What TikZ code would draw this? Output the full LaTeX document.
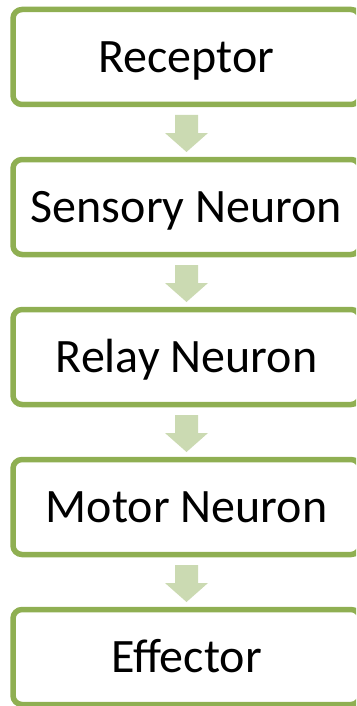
\documentclass[tikz,border=0pt]{standalone}
\usepackage{fontspec}
\setmainfont{Carlito}
\usetikzlibrary{calc}
\definecolor{stepgreen}{RGB}{143,175,82}
\definecolor{arrowgreen}{RGB}{203,218,178}
\begin{document}
\begin{tikzpicture}[x=1pt,y=-1pt,
  stepbox/.style={draw=stepgreen, line width=5.5pt, rounded corners=9pt,
    minimum width=347pt, minimum height=95pt, inner sep=0pt, outer sep=0pt,
    text height=30.3pt, text depth=0pt,
    font=\fontsize{48}{52}\selectfont},
  blockarrow/.style={fill=arrowgreen, draw=none}]
\useasboundingbox (0,0) rectangle (356,706);
\clip (0,0) rectangle (356,706);

% process steps
\node[stepbox] (receptor) at (186.5,57)  {Receptor};
\node[stepbox] (sensory)  at (186.5,207) {Sensory Neuron};
\node[stepbox] (relay)    at (186.5,357) {Relay Neuron};
\node[stepbox] (motor)    at (186.5,507) {Motor Neuron};
\node[stepbox] (effector) at (186.5,657) {Effector};

% downward block arrows between consecutive steps
\foreach \a/\b in {receptor/sensory, sensory/relay, relay/motor, motor/effector}{
  \path[blockarrow]
    ($(\a.south)+(-11.5,10.5)$) -- ($(\a.south)+(11.5,10.5)$)
    -- ($(\a.south)+(11.5,28.5)$) -- ($(\a.south)+(21.5,28.5)$)
    -- ($(\b.north)+(0,-7.5)$)
    -- ($(\a.south)+(-21.5,28.5)$) -- ($(\a.south)+(-11.5,28.5)$) -- cycle;
}
\end{tikzpicture}
\end{document}
